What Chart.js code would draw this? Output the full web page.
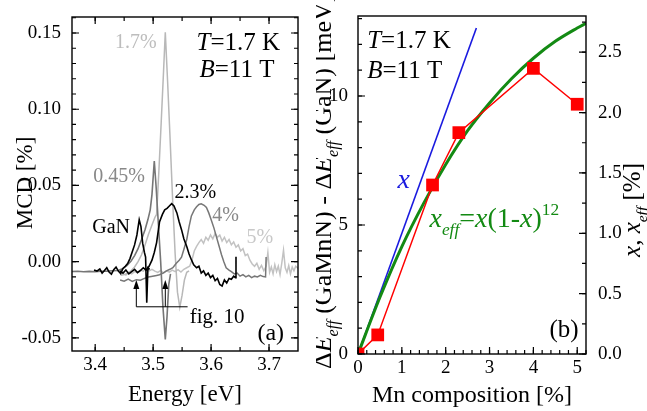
<!DOCTYPE html>
<html>
<head>
<meta charset="utf-8">
<script src="https://cdn.jsdelivr.net/npm/chart.js@4.4.1/dist/chart.umd.min.js"></script>
<style>
  body { margin: 0; background: #fff; }
  #wrap { position: relative; width: 647px; height: 411px; overflow: hidden; }
  canvas { position: absolute; top: 0; }
</style>
</head>
<body>
<div id="wrap">
  <canvas id="mcdChart" width="316" height="411" style="left:0"></canvas>
  <canvas id="shiftChart" width="331" height="411" style="left:316px"></canvas>
</div>
<script>
const SERIF = '"Liberation Serif", "Times New Roman", serif';

// ---- panel (a): MCD spectra, [energy eV, MCD %] ----
const spectrumGaN = [[3.398,-0.0055],[3.403,-0.0062],[3.408,-0.0048],[3.412,-0.0075],[3.416,-0.0058],[3.420,-0.0040],[3.424,-0.0068],[3.428,-0.0082],[3.432,-0.0052],[3.436,-0.0036],[3.440,-0.0062],[3.444,-0.0078],[3.448,-0.0045],[3.452,-0.0030],[3.456,-0.0012],[3.460,0.0020],[3.464,0.0065],[3.468,0.0110],[3.472,0.0175],[3.476,0.0275],[3.479,0.0230],[3.482,0.0120],[3.485,0.0060],[3.487,0.0030],[3.489,-0.0270],[3.491,-0.0040],[3.494,-0.0050]];
const spectrum045 = [[3.358,-0.0065],[3.370,-0.0063],[3.380,-0.0066],[3.390,-0.0064],[3.400,-0.0066],[3.410,-0.0063],[3.420,-0.0062],[3.430,-0.0060],[3.440,-0.0058],[3.448,-0.0045],[3.455,-0.0025],[3.462,0.0005],[3.468,0.0040],[3.474,0.0085],[3.480,0.0145],[3.486,0.0210],[3.491,0.0276],[3.495,0.0340],[3.498,0.0440],[3.502,0.0660],[3.505,0.0500],[3.509,0.0250],[3.513,0.0000],[3.517,-0.0300],[3.521,-0.0510],[3.524,-0.0360],[3.527,-0.0150],[3.530,-0.0080]];
const spectrum17 = [[3.444,-0.0090],[3.450,-0.0085],[3.456,-0.0075],[3.462,-0.0060],[3.468,-0.0035],[3.474,0.0000],[3.480,0.0045],[3.486,0.0110],[3.492,0.0180],[3.498,0.0240],[3.503,0.0290],[3.506,0.0310],[3.510,0.0600],[3.514,0.0920],[3.518,0.1250],[3.521,0.1505],[3.525,0.1180],[3.529,0.0830],[3.534,0.0375],[3.538,0.0050],[3.542,-0.0200],[3.546,-0.0300],[3.550,-0.0220],[3.554,-0.0120],[3.558,-0.0070],[3.562,-0.0060]];
const spectrum23 = [[3.443,-0.0060],[3.448,-0.0075],[3.453,-0.0055],[3.458,-0.0080],[3.463,-0.0065],[3.468,-0.0050],[3.473,-0.0072],[3.478,-0.0058],[3.483,-0.0040],[3.488,-0.0055],[3.493,-0.0030],[3.498,0.0010],[3.502,0.0060],[3.506,0.0125],[3.511,0.0260],[3.516,0.0310],[3.520,0.0340],[3.524,0.0350],[3.528,0.0365],[3.532,0.0380],[3.536,0.0365],[3.541,0.0320],[3.545,0.0260],[3.549,0.0210],[3.553,0.0150],[3.558,0.0100],[3.562,0.0050],[3.566,0.0013],[3.570,-0.0020],[3.575,-0.0040],[3.579,-0.0030],[3.583,-0.0075],[3.587,-0.0060],[3.591,-0.0090],[3.595,-0.0075],[3.599,-0.0105],[3.603,-0.0090],[3.607,-0.0125],[3.611,-0.0110],[3.615,-0.0150],[3.619,-0.0160],[3.623,-0.0120],[3.627,-0.0140],[3.631,-0.0110],[3.635,-0.0115],[3.639,-0.0095],[3.642,-0.0105],[3.643,0.0033]];
const spectrum4 = [[3.443,-0.0120],[3.450,-0.0128],[3.457,-0.0115],[3.464,-0.0130],[3.471,-0.0118],[3.478,-0.0122],[3.485,-0.0110],[3.492,-0.0100],[3.499,-0.0095],[3.506,-0.0090],[3.511,-0.0086],[3.517,-0.0075],[3.523,-0.0060],[3.529,-0.0050],[3.534,-0.0040],[3.540,-0.0010],[3.545,0.0010],[3.549,0.0030],[3.553,0.0080],[3.558,0.0145],[3.562,0.0230],[3.566,0.0300],[3.571,0.0340],[3.575,0.0360],[3.579,0.0375],[3.583,0.0380],[3.588,0.0370],[3.592,0.0355],[3.596,0.0320],[3.600,0.0276],[3.605,0.0220],[3.609,0.0166],[3.614,0.0100],[3.618,0.0046],[3.622,0.0000],[3.626,-0.0040],[3.631,-0.0055],[3.635,-0.0066],[3.640,-0.0080],[3.645,-0.0075],[3.650,-0.0095],[3.655,-0.0085],[3.660,-0.0100],[3.665,-0.0090],[3.670,-0.0105],[3.675,-0.0095],[3.680,-0.0100],[3.685,-0.0090],[3.690,-0.0098],[3.694,-0.0100],[3.695,0.0030]];
const spectrum5 = [[3.443,-0.0085],[3.448,-0.0078],[3.453,-0.0088],[3.458,-0.0070],[3.463,-0.0080],[3.468,-0.0065],[3.473,-0.0072],[3.478,-0.0055],[3.483,-0.0062],[3.488,-0.0048],[3.493,-0.0060],[3.498,-0.0050],[3.503,-0.0062],[3.508,-0.0070],[3.513,-0.0058],[3.518,-0.0075],[3.523,-0.0060],[3.528,-0.0068],[3.533,-0.0055],[3.538,-0.0065],[3.543,-0.0052],[3.548,-0.0068],[3.553,-0.0050],[3.558,-0.0040],[3.563,-0.0030],[3.567,0.0010],[3.571,0.0070],[3.575,0.0100],[3.579,0.0125],[3.583,0.0145],[3.587,0.0120],[3.591,0.0160],[3.595,0.0140],[3.599,0.0175],[3.603,0.0150],[3.607,0.0185],[3.611,0.0160],[3.615,0.0175],[3.619,0.0135],[3.623,0.0160],[3.627,0.0125],[3.631,0.0145],[3.635,0.0110],[3.639,0.0130],[3.643,0.0095],[3.647,0.0110],[3.651,0.0070],[3.655,0.0085],[3.659,0.0040],[3.663,0.0050],[3.667,0.0010],[3.671,-0.0015],[3.675,-0.0030],[3.679,-0.0010],[3.683,-0.0050],[3.687,-0.0025],[3.691,-0.0060],[3.695,-0.0030],[3.698,0.0060],[3.701,-0.0070],[3.704,-0.0035],[3.707,-0.0080],[3.710,-0.0020],[3.713,-0.0065],[3.716,-0.0030],[3.719,-0.0085],[3.722,-0.0010],[3.725,0.0075],[3.728,-0.0040],[3.731,-0.0070],[3.734,-0.0025],[3.737,-0.0080],[3.740,-0.0035],[3.743,-0.0060],[3.746,-0.0030],[3.752,-0.0050]];
const energyTicks = [3.4, 3.5, 3.6, 3.7];
const mcdTicks = [-0.05, 0, 0.05, 0.10, 0.15];
const fig10Energies = [3.471, 3.521];

// ---- panel (b): exciton shift vs Mn content ----
const mnComposition = [0, 0.45, 1.7, 2.3, 4, 5];
const deltaE = [0, 0.74, 6.55, 8.58, 11.07, 9.68];
const xLineX = [0, 2.7];
const xLineY = [0, 2.7];
const xeffX = [0, 0.5, 1, 1.5, 2, 2.5, 3, 3.5, 4, 4.5, 5, 5.2];
const xeffY = [0, 0.47, 0.89, 1.25, 1.57, 1.85, 2.08, 2.28, 2.45, 2.59, 2.70, 2.74];
const compTicks = [0, 1, 2, 3, 4, 5];
const shiftTicks = [0, 5, 10];
const xTicks = [0, 0.5, 1, 1.5, 2, 2.5];

const toXY = arr => arr.map(([x, y]) => ({ x, y }));
const zipXY = (xs, ys) => xs.map((x, i) => ({ x, y: ys[i] }));

function fontStr(size, italic) {
  return (italic ? 'italic ' : '') + size + 'px ' + SERIF;
}

// parts: [text, flags]  i = italic, b = subscript, p = superscript
function richWidth(ctx, parts, size) {
  let w = 0;
  for (const [t, f = ''] of parts) {
    const small = f.includes('b') || f.includes('p');
    ctx.font = fontStr(small ? size * 0.62 : size, f.includes('i'));
    w += ctx.measureText(t).width;
  }
  return w;
}

function drawRich(ctx, parts, x, y, size, color, align) {
  ctx.save();
  ctx.fillStyle = color || '#000';
  ctx.textBaseline = 'alphabetic';
  ctx.textAlign = 'left';
  const w = richWidth(ctx, parts, size);
  let cx = align === 'right' ? x - w : align === 'center' ? x - w / 2 : x;
  for (const [t, f = ''] of parts) {
    const small = f.includes('b') || f.includes('p');
    ctx.font = fontStr(small ? size * 0.62 : size, f.includes('i'));
    const dy = f.includes('b') ? size * 0.28 : f.includes('p') ? -size * 0.42 : 0;
    ctx.fillText(t, cx, y + dy);
    cx += ctx.measureText(t).width;
  }
  ctx.restore();
}

function drawRotated(ctx, parts, x, y, size, align) {
  ctx.save();
  ctx.translate(x, y);
  ctx.rotate(-Math.PI / 2);
  drawRich(ctx, parts, 0, 0, size, '#000', align);
  ctx.restore();
}

function tickMarks(ctx, scale, area, from, to, step, len, side) {
  ctx.beginPath();
  const n = Math.round((to - from) / step);
  for (let i = 0; i <= n; i++) {
    const p = scale.getPixelForValue(from + i * step);
    if (side === 'bottom') { ctx.moveTo(p, area.bottom); ctx.lineTo(p, area.bottom - len); }
    if (side === 'top') { ctx.moveTo(p, area.top); ctx.lineTo(p, area.top + len); }
    if (side === 'left') { ctx.moveTo(area.left, p); ctx.lineTo(area.left + len, p); }
    if (side === 'right') { ctx.moveTo(area.right, p); ctx.lineTo(area.right - len, p); }
  }
  ctx.stroke();
}

function frame(ctx, area) {
  ctx.save();
  ctx.strokeStyle = '#000';
  ctx.lineWidth = 1.4;
  ctx.strokeRect(area.left, area.top, area.right - area.left, area.bottom - area.top);
  ctx.restore();
}

const tickFont = { family: SERIF, size: 19 };

// labels in panel (a): position in data units, y is text baseline
const mcdLabels = [
  { parts: [['T', 'i'], ['=1.7 K']], e: 3.575, m: 0.1386, size: 25, color: '#000', align: 'left' },
  { parts: [['B', 'i'], ['=11 T']], e: 3.580, m: 0.1209, size: 25, color: '#000', align: 'left' },
  { parts: [['1.7%']], e: 3.506, m: 0.1401, size: 20, color: '#bdbdbd', align: 'right' },
  { parts: [['0.45%']], e: 3.486, m: 0.0522, size: 20, color: '#888888', align: 'right' },
  { parts: [['2.3%']], e: 3.537, m: 0.0417, size: 20, color: '#000', align: 'left' },
  { parts: [['4%']], e: 3.602, m: 0.0266, size: 20, color: '#888888', align: 'left' },
  { parts: [['5%']], e: 3.661, m: 0.0121, size: 20, color: '#c8c8c8', align: 'left' },
  { parts: [['GaN']], e: 3.460, m: 0.0187, size: 20, color: '#000', align: 'right' },
  { parts: [['(a)']], e: 3.726, m: -0.0513, size: 24, color: '#000', align: 'right' },
  { parts: [['fig. 10']], e: 3.563, m: -0.0401, size: 21, color: '#000', align: 'left' }
];

const mcdDecor = {
  id: 'mcdDecor',
  afterDraw(chart) {
    const { ctx, chartArea: a, scales: { x, y } } = chart;
    frame(ctx, a);
    ctx.save();
    ctx.strokeStyle = '#000';
    ctx.lineWidth = 1.2;
    tickMarks(ctx, x, a, 3.4, 3.7, 0.1, 7, 'bottom');
    tickMarks(ctx, x, a, 3.4, 3.7, 0.1, 7, 'top');
    tickMarks(ctx, x, a, 3.4, 3.7, 0.05, 4, 'bottom');
    tickMarks(ctx, x, a, 3.4, 3.7, 0.05, 4, 'top');
    tickMarks(ctx, y, a, -0.05, 0.15, 0.05, 7, 'left');
    tickMarks(ctx, y, a, -0.05, 0.15, 0.05, 7, 'right');
    tickMarks(ctx, y, a, -0.05, 0.16, 0.01, 4, 'left');
    tickMarks(ctx, y, a, -0.05, 0.16, 0.01, 4, 'right');

    // fig. 10 arrows
    const base = y.getPixelForValue(-0.0296);
    const tip = y.getPixelForValue(-0.0120);
    ctx.lineWidth = 1;
    ctx.fillStyle = '#000';
    ctx.beginPath();
    ctx.moveTo(x.getPixelForValue(fig10Energies[0]), base);
    ctx.lineTo(x.getPixelForValue(3.5595), base);
    ctx.stroke();
    for (const e of fig10Energies) {
      const px = x.getPixelForValue(e);
      ctx.beginPath();
      ctx.moveTo(px, base);
      ctx.lineTo(px, tip + 6);
      ctx.stroke();
      ctx.beginPath();
      ctx.moveTo(px, tip);
      ctx.lineTo(px - 3, tip + 9);
      ctx.lineTo(px + 3, tip + 9);
      ctx.closePath();
      ctx.fill();
    }
    ctx.restore();

    for (const l of mcdLabels) {
      drawRich(ctx, l.parts, x.getPixelForValue(l.e), y.getPixelForValue(l.m), l.size, l.color, l.align);
    }
    drawRotated(ctx, [['MCD [%]']], 32, 183, 23, 'center');
    drawRich(ctx, [['Energy [eV]']], (a.left + a.right) / 2, 401, 23, '#000', 'center');
  }
};

new Chart(document.getElementById('mcdChart'), {
  type: 'line',
  data: {
    datasets: [
      { data: toXY(spectrumGaN), borderColor: '#000000', borderWidth: 1.6 },
      { data: toXY(spectrum23), borderColor: '#000000', borderWidth: 1.6 },
      { data: toXY(spectrum045), borderColor: '#767676', borderWidth: 1.6 },
      { data: toXY(spectrum4), borderColor: '#777777', borderWidth: 1.5 },
      { data: toXY(spectrum17), borderColor: '#b8b8b8', borderWidth: 1.5 },
      { data: toXY(spectrum5), borderColor: '#c2c2c2', borderWidth: 1.5 }
    ]
  },
  options: {
    responsive: false,
    animation: false,
    elements: { point: { radius: 0 }, line: { tension: 0 } },
    layout: { padding: { top: 17, right: 18, left: 0, bottom: 0 } },
    plugins: { legend: { display: false }, tooltip: { enabled: false } },
    scales: {
      x: {
        type: 'linear', min: 3.36, max: 3.75,
        grid: { display: false }, border: { display: false },
        afterBuildTicks: s => { s.ticks = energyTicks.map(v => ({ value: v })); },
        afterFit: s => { s.height = 60; },
        ticks: { font: tickFont, color: '#000', padding: -5, maxRotation: 0, autoSkip: false, callback: v => v.toFixed(1) }
      },
      y: {
        type: 'linear', min: -0.0586, max: 0.1605,
        grid: { display: false }, border: { display: false },
        afterBuildTicks: s => { s.ticks = mcdTicks.map(v => ({ value: v })); },
        afterFit: s => { s.width = 72; },
        ticks: { font: tickFont, color: '#000', padding: 3, autoSkip: false, callback: v => v.toFixed(2) }
      }
    }
  },
  plugins: [mcdDecor]
});

// ---- panel (b) ----
const shiftLabels = [
  { parts: [['T', 'i'], ['=1.7 K']], x: 0.21, y: 11.85, size: 25, color: '#000', align: 'left' },
  { parts: [['B', 'i'], ['=11 T']], x: 0.21, y: 10.69, size: 25, color: '#000', align: 'left' },
  { parts: [['x', 'i']], x: 0.9, y: 6.43, size: 28, color: '#1a1adf', align: 'left' },
  { parts: [['x', 'i'], ['eff', 'ib'], ['='], ['x', 'i'], ['(1-'], ['x', 'i'], [')'], ['12', 'p']], x: 1.63, y: 4.92, size: 28, color: '#138a13', align: 'left' },
  { parts: [['(b)']], x: 5.03, y: 0.66, size: 25, color: '#000', align: 'right' }
];

const shiftDecor = {
  id: 'shiftDecor',
  afterDraw(chart) {
    const { ctx, chartArea: a, scales: { x, y, y2 } } = chart;
    frame(ctx, a);
    ctx.save();
    ctx.strokeStyle = '#000';
    ctx.lineWidth = 1.2;
    tickMarks(ctx, x, a, 0, 5, 1, 7, 'bottom');
    tickMarks(ctx, x, a, 0, 5.2, 0.2, 4, 'bottom');
    tickMarks(ctx, y, a, 0, 10, 5, 7, 'left');
    tickMarks(ctx, y, a, 0, 13, 1, 4, 'left');
    tickMarks(ctx, y2, a, 0, 2.5, 0.5, 7, 'right');
    tickMarks(ctx, y2, a, 0, 2.75, 0.25, 4, 'right');
    ctx.restore();

    for (const l of shiftLabels) {
      drawRich(ctx, l.parts, x.getPixelForValue(l.x), y.getPixelForValue(l.y), l.size, l.color, l.align);
    }
    drawRotated(ctx, [['Δ'], ['E', 'i'], ['eff', 'ib'], [' (GaMnN) - '], ['Δ'], ['E', 'i'], ['eff', 'ib'], [' (GaN) [meV]']], 15, 369, 26, 'left');
    drawRotated(ctx, [['x', 'i'], [', '], ['x', 'i'], ['eff', 'ib'], [' [%]']], 324, 210, 25, 'center');
    drawRich(ctx, [['Mn composition [%]']], (a.left + a.right) / 2, 402, 24, '#000', 'center');
  }
};

new Chart(document.getElementById('shiftChart'), {
  type: 'line',
  data: {
    datasets: [
      {
        data: zipXY(mnComposition, deltaE), yAxisID: 'y',
        borderColor: '#ff0000', borderWidth: 1.5,
        pointStyle: 'rect', pointRadius: 9, pointBackgroundColor: '#ff0000', pointBorderWidth: 0
      },
      { data: zipXY(xeffX, xeffY), yAxisID: 'y2', borderColor: '#138a13', borderWidth: 3, pointRadius: 0, cubicInterpolationMode: 'monotone' },
      { data: zipXY(xLineX, xLineY), yAxisID: 'y2', borderColor: '#1a1adf', borderWidth: 1.6, pointRadius: 0 }
    ]
  },
  options: {
    responsive: false,
    animation: false,
    layout: { padding: { top: 16, right: 0, left: 0, bottom: 0 } },
    plugins: { legend: { display: false }, tooltip: { enabled: false } },
    scales: {
      x: {
        type: 'linear', min: 0, max: 5.2,
        grid: { display: false }, border: { display: false },
        afterBuildTicks: s => { s.ticks = compTicks.map(v => ({ value: v })); },
        afterFit: s => { s.height = 57; },
        ticks: { font: tickFont, color: '#000', padding: -5, maxRotation: 0, autoSkip: false, callback: v => String(v) }
      },
      y: {
        type: 'linear', position: 'left', min: 0, max: 13.1,
        grid: { display: false }, border: { display: false },
        afterBuildTicks: s => { s.ticks = shiftTicks.map(v => ({ value: v })); },
        afterFit: s => { s.width = 42; },
        ticks: { font: tickFont, color: '#000', padding: 2, autoSkip: false, callback: v => String(v) }
      },
      y2: {
        type: 'linear', position: 'right', min: 0, max: 2.8,
        grid: { display: false }, border: { display: false },
        afterBuildTicks: s => { s.ticks = xTicks.map(v => ({ value: v })); },
        afterFit: s => { s.width = 61; },
        ticks: { font: tickFont, color: '#000', padding: 4, autoSkip: false, callback: v => v.toFixed(1) }
      }
    }
  },
  plugins: [shiftDecor]
});
</script>
</body>
</html>
